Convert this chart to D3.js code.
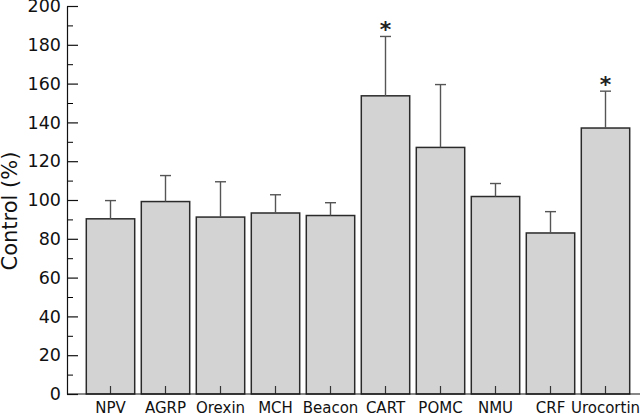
<!DOCTYPE html>
<html>
<head>
<meta charset="utf-8">
<script src="https://cdn.jsdelivr.net/npm/d3@7"></script>
<style>
  body { margin: 0; background: #fff; }
  svg { display: block; font-family: "DejaVu Sans", sans-serif; }
</style>
</head>
<body>
<svg id="chart" width="640" height="414"></svg>
<script>
const peptides = ["NPV", "AGRP", "Orexin", "MCH", "Beacon", "CART", "POMC", "NMU", "CRF", "Urocortin"];
const means = [90.3, 99.2, 91.2, 93.3, 92.0, 153.7, 127.1, 101.8, 83.0, 137.1];
const errors = [9.4, 13.4, 18.2, 9.4, 6.6, 30.6, 32.4, 6.7, 11.0, 19.0];
const significant = ["CART", "Urocortin"];
const yTicks = [0, 20, 40, 60, 80, 100, 120, 140, 160, 180, 200];

const svg = d3.select("#chart");
const axisX = 67;   // left axis line
const baseY = 394;  // bottom axis line

const x = d3.scaleBand()
    .domain(peptides)
    .range([83, 633])
    .paddingInner(0.12)
    .paddingOuter(0.06);

const y = d3.scaleLinear()
    .domain([0, 200])
    .range([baseY, 6]);

// bars
svg.selectAll(".bar")
    .data(peptides)
    .enter().append("rect")
    .attr("class", "bar")
    .attr("x", d => x(d))
    .attr("y", (d, i) => y(means[i]))
    .attr("width", x.bandwidth())
    .attr("height", (d, i) => y(0) - y(means[i]))
    .attr("fill", "#d3d3d3")
    .attr("stroke", "#2a2a2a")
    .attr("stroke-width", 1.5);

// error bars (upper only)
const errG = svg.append("g").attr("stroke", "#555").attr("stroke-width", 1.4);
peptides.forEach((d, i) => {
    const cx = x(d) + x.bandwidth() / 2;
    errG.append("line")
        .attr("x1", cx).attr("x2", cx)
        .attr("y1", y(means[i])).attr("y2", y(means[i] + errors[i]));
    errG.append("line")
        .attr("x1", cx - 5.5).attr("x2", cx + 5.5)
        .attr("y1", y(means[i] + errors[i])).attr("y2", y(means[i] + errors[i]));
});

// significance stars
svg.selectAll(".star")
    .data(significant)
    .enter().append("text")
    .attr("class", "star")
    .attr("x", d => x(d) + x.bandwidth() / 2)
    .attr("y", d => { const i = peptides.indexOf(d); return y(means[i] + errors[i]) + 1; })
    .attr("text-anchor", "middle")
    .style("font-size", "22px")
    .attr("font-weight", "bold")
    .attr("fill", "#222")
    .text("*");

// y axis: minor ticks every 10, major every 20
svg.append("g")
    .attr("transform", `translate(${axisX},0)`)
    .call(d3.axisLeft(y).tickValues(d3.range(10, 200, 20)).tickSizeInner(-6).tickSizeOuter(0).tickFormat(""))
    .call(g => g.select(".domain").remove());

svg.append("g")
    .attr("transform", `translate(${axisX},0)`)
    .call(d3.axisLeft(y).tickValues(yTicks).tickSizeInner(-11).tickSizeOuter(0).tickPadding(6))
    .call(g => g.selectAll("text").style("font-size", "17.5px").style("font-family", "'DejaVu Sans'").attr("fill", "#111"))
    .call(g => g.selectAll("line, path").attr("stroke", "#111").attr("stroke-width", 1.2));

// x axis
svg.append("g")
    .attr("transform", `translate(0,${baseY})`)
    .call(d3.axisBottom(x).tickSizeInner(-8).tickSizeOuter(0).tickPadding(8))
    .call(g => g.select(".domain").remove())
    .call(g => g.selectAll("text").style("font-size", "15px").style("font-family", "'DejaVu Sans'").attr("fill", "#111"))
    .call(g => g.selectAll("line").attr("stroke", "#333").attr("stroke-width", 1.2));

svg.append("line")
    .attr("x1", axisX).attr("x2", 640)
    .attr("y1", baseY).attr("y2", baseY)
    .attr("stroke", "#111").attr("stroke-width", 1.2);

// y axis title
svg.append("text")
    .attr("transform", `translate(17,${(y(0) + y(200)) / 2 + 11}) rotate(-90)`)
    .attr("text-anchor", "middle")
    .style("font-size", "21px")
    .attr("fill", "#111")
    .text("Control (%)");
</script>
</body>
</html>
